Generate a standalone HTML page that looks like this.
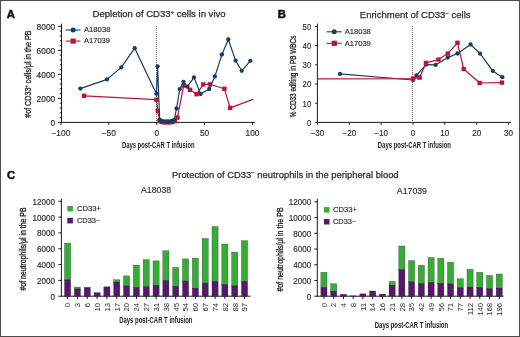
<!DOCTYPE html>
<html><head><meta charset="utf-8"><style>
html,body{margin:0;padding:0;background:#fff;}
body{width:520px;height:337px;overflow:hidden;}
svg{display:block;font-family:"Liberation Sans", sans-serif;will-change:transform;}
</style></head><body>
<svg width="520" height="337" viewBox="0 0 520 337">
<rect x="0" y="0" width="520" height="337" fill="#fff"/>
<g>
<text x="6.8" y="17.8" font-size="11.3" text-anchor="start" fill="#111" font-weight="bold" stroke="#111" stroke-width="0.5">A</text>
<text x="92.6" y="17.4" font-size="9.55" fill="#2e2e2e" stroke="#2e2e2e" stroke-width="0.25">Depletion of CD33<tspan font-size="6" dy="-3.5">+</tspan><tspan dy="3.5"> cells in vivo</tspan></text>
<line x1="61.5" y1="23.7" x2="61.5" y2="122.9" stroke="#1a1a1a" stroke-width="1"/>
<line x1="61.0" y1="122.4" x2="255" y2="122.4" stroke="#1a1a1a" stroke-width="1"/>
<line x1="58.0" y1="122.4" x2="61.5" y2="122.4" stroke="#1a1a1a" stroke-width="1"/>
<text x="55.2" y="125.80000000000001" font-size="8.2" text-anchor="end" fill="#2a2a2a" font-weight="normal" textLength="4.65" lengthAdjust="spacingAndGlyphs" stroke="#2a2a2a" stroke-width="0.15">0</text>
<line x1="58.0" y1="98.375" x2="61.5" y2="98.375" stroke="#1a1a1a" stroke-width="1"/>
<text x="55.2" y="101.775" font-size="8.2" text-anchor="end" fill="#2a2a2a" font-weight="normal" textLength="18.6" lengthAdjust="spacingAndGlyphs" stroke="#2a2a2a" stroke-width="0.15">2000</text>
<line x1="58.0" y1="74.35000000000001" x2="61.5" y2="74.35000000000001" stroke="#1a1a1a" stroke-width="1"/>
<text x="55.2" y="77.75000000000001" font-size="8.2" text-anchor="end" fill="#2a2a2a" font-weight="normal" textLength="18.6" lengthAdjust="spacingAndGlyphs" stroke="#2a2a2a" stroke-width="0.15">4000</text>
<line x1="58.0" y1="50.32500000000002" x2="61.5" y2="50.32500000000002" stroke="#1a1a1a" stroke-width="1"/>
<text x="55.2" y="53.725000000000016" font-size="8.2" text-anchor="end" fill="#2a2a2a" font-weight="normal" textLength="18.6" lengthAdjust="spacingAndGlyphs" stroke="#2a2a2a" stroke-width="0.15">6000</text>
<line x1="58.0" y1="26.30000000000001" x2="61.5" y2="26.30000000000001" stroke="#1a1a1a" stroke-width="1"/>
<text x="55.2" y="29.70000000000001" font-size="8.2" text-anchor="end" fill="#2a2a2a" font-weight="normal" textLength="18.6" lengthAdjust="spacingAndGlyphs" stroke="#2a2a2a" stroke-width="0.15">8000</text>
<line x1="59.8" y1="117.595" x2="61.5" y2="117.595" stroke="#1a1a1a" stroke-width="1"/>
<line x1="59.8" y1="112.79" x2="61.5" y2="112.79" stroke="#1a1a1a" stroke-width="1"/>
<line x1="59.8" y1="107.98500000000001" x2="61.5" y2="107.98500000000001" stroke="#1a1a1a" stroke-width="1"/>
<line x1="59.8" y1="103.18" x2="61.5" y2="103.18" stroke="#1a1a1a" stroke-width="1"/>
<line x1="59.8" y1="93.57000000000001" x2="61.5" y2="93.57000000000001" stroke="#1a1a1a" stroke-width="1"/>
<line x1="59.8" y1="88.76500000000001" x2="61.5" y2="88.76500000000001" stroke="#1a1a1a" stroke-width="1"/>
<line x1="59.8" y1="83.96000000000001" x2="61.5" y2="83.96000000000001" stroke="#1a1a1a" stroke-width="1"/>
<line x1="59.8" y1="79.155" x2="61.5" y2="79.155" stroke="#1a1a1a" stroke-width="1"/>
<line x1="59.8" y1="69.54500000000002" x2="61.5" y2="69.54500000000002" stroke="#1a1a1a" stroke-width="1"/>
<line x1="59.8" y1="64.74000000000001" x2="61.5" y2="64.74000000000001" stroke="#1a1a1a" stroke-width="1"/>
<line x1="59.8" y1="59.93500000000001" x2="61.5" y2="59.93500000000001" stroke="#1a1a1a" stroke-width="1"/>
<line x1="59.8" y1="55.13000000000001" x2="61.5" y2="55.13000000000001" stroke="#1a1a1a" stroke-width="1"/>
<line x1="59.8" y1="45.52000000000001" x2="61.5" y2="45.52000000000001" stroke="#1a1a1a" stroke-width="1"/>
<line x1="59.8" y1="40.71500000000002" x2="61.5" y2="40.71500000000002" stroke="#1a1a1a" stroke-width="1"/>
<line x1="59.8" y1="35.91000000000001" x2="61.5" y2="35.91000000000001" stroke="#1a1a1a" stroke-width="1"/>
<line x1="59.8" y1="31.105000000000018" x2="61.5" y2="31.105000000000018" stroke="#1a1a1a" stroke-width="1"/>
<line x1="60.89999999999999" y1="122.4" x2="60.89999999999999" y2="125.0" stroke="#1a1a1a" stroke-width="1"/>
<text x="60.89999999999999" y="136.0" font-size="8.2" text-anchor="middle" fill="#2a2a2a" font-weight="normal" textLength="18.85" lengthAdjust="spacingAndGlyphs" stroke="#2a2a2a" stroke-width="0.15">−100</text>
<line x1="108.79999999999998" y1="122.4" x2="108.79999999999998" y2="125.0" stroke="#1a1a1a" stroke-width="1"/>
<text x="108.79999999999998" y="136.0" font-size="8.2" text-anchor="middle" fill="#2a2a2a" font-weight="normal" textLength="14.200000000000001" lengthAdjust="spacingAndGlyphs" stroke="#2a2a2a" stroke-width="0.15">−50</text>
<line x1="156.7" y1="122.4" x2="156.7" y2="125.0" stroke="#1a1a1a" stroke-width="1"/>
<text x="156.7" y="136.0" font-size="8.2" text-anchor="middle" fill="#2a2a2a" font-weight="normal" textLength="4.65" lengthAdjust="spacingAndGlyphs" stroke="#2a2a2a" stroke-width="0.15">0</text>
<line x1="204.6" y1="122.4" x2="204.6" y2="125.0" stroke="#1a1a1a" stroke-width="1"/>
<text x="204.6" y="136.0" font-size="8.2" text-anchor="middle" fill="#2a2a2a" font-weight="normal" textLength="9.3" lengthAdjust="spacingAndGlyphs" stroke="#2a2a2a" stroke-width="0.15">50</text>
<line x1="252.5" y1="122.4" x2="252.5" y2="125.0" stroke="#1a1a1a" stroke-width="1"/>
<text x="252.5" y="136.0" font-size="8.2" text-anchor="middle" fill="#2a2a2a" font-weight="normal" textLength="13.950000000000001" lengthAdjust="spacingAndGlyphs" stroke="#2a2a2a" stroke-width="0.15">100</text>
<line x1="156.5" y1="26.0" x2="156.5" y2="122.4" stroke="#555" stroke-width="0.9" stroke-dasharray="1 1"/>
<text x="121.9" y="147.6" font-size="8.9" text-anchor="start" fill="#1a1a1a" font-weight="bold" textLength="72.7" lengthAdjust="spacingAndGlyphs">Days post-CAR T infusion</text>
<text transform="translate(30.9,117.8) rotate(-90)" font-size="9.4" fill="#1a1a1a" stroke="#1a1a1a" stroke-width="0.3" textLength="87.3" lengthAdjust="spacingAndGlyphs">#of CD33<tspan font-size="5" dy="-3">+</tspan><tspan dy="3"> cells/μl in the PB</tspan></text>
<line x1="65.7" y1="30.0" x2="80.5" y2="30.0" stroke="#183d64" stroke-width="1.1"/>
<circle cx="73.10" cy="30.00" r="2.5" fill="#183d64"/>
<text x="84.0" y="31.9" font-size="7.5" text-anchor="start" fill="#2a2a2a" font-weight="normal" textLength="26.4" lengthAdjust="spacingAndGlyphs" stroke="#2a2a2a" stroke-width="0.15">A18038</text>
<line x1="65.7" y1="41.1" x2="80.5" y2="41.1" stroke="#bf1239" stroke-width="1.1"/>
<rect x="70.50" y="38.50" width="5.2" height="5.2" fill="#bf1239"/>
<text x="84.0" y="43.0" font-size="7.5" text-anchor="start" fill="#2a2a2a" font-weight="normal" textLength="26.0" lengthAdjust="spacingAndGlyphs" stroke="#2a2a2a" stroke-width="0.15">A17039</text>
<polyline points="84.10,95.80 156.50,99.60 157.80,111.20 159.60,121.00 161.60,122.00 164.20,122.30 167.00,122.40 169.80,122.30 172.40,122.00 174.80,121.20 177.40,117.60 183.70,85.60 190.00,89.80 196.60,94.20 203.30,84.40 209.90,84.30 224.40,88.80 230.10,107.90 253.00,99.40" fill="none" stroke="#bf1239" stroke-width="1.2" stroke-linejoin="round"/>
<rect x="81.90" y="93.60" width="4.4" height="4.4" fill="#bf1239"/>
<rect x="154.30" y="97.40" width="4.4" height="4.4" fill="#bf1239"/>
<rect x="155.60" y="109.00" width="4.4" height="4.4" fill="#bf1239"/>
<rect x="157.40" y="118.80" width="4.4" height="4.4" fill="#bf1239"/>
<rect x="159.40" y="119.80" width="4.4" height="4.4" fill="#bf1239"/>
<rect x="162.00" y="120.10" width="4.4" height="4.4" fill="#bf1239"/>
<rect x="164.80" y="120.20" width="4.4" height="4.4" fill="#bf1239"/>
<rect x="167.60" y="120.10" width="4.4" height="4.4" fill="#bf1239"/>
<rect x="170.20" y="119.80" width="4.4" height="4.4" fill="#bf1239"/>
<rect x="172.60" y="119.00" width="4.4" height="4.4" fill="#bf1239"/>
<rect x="175.20" y="115.40" width="4.4" height="4.4" fill="#bf1239"/>
<rect x="181.50" y="83.40" width="4.4" height="4.4" fill="#bf1239"/>
<rect x="187.80" y="87.60" width="4.4" height="4.4" fill="#bf1239"/>
<rect x="194.40" y="92.00" width="4.4" height="4.4" fill="#bf1239"/>
<rect x="201.10" y="82.20" width="4.4" height="4.4" fill="#bf1239"/>
<rect x="207.70" y="82.10" width="4.4" height="4.4" fill="#bf1239"/>
<rect x="222.20" y="86.60" width="4.4" height="4.4" fill="#bf1239"/>
<rect x="227.90" y="105.70" width="4.4" height="4.4" fill="#bf1239"/>
<polyline points="80.30,88.60 107.00,79.40 121.30,67.40 134.70,48.20 156.40,93.80 157.60,66.30 159.60,119.60 161.40,120.90 163.40,121.30 165.60,121.50 167.80,121.50 170.00,121.40 172.20,121.00 174.20,120.00 176.50,108.50 179.80,89.10 183.50,81.80 187.40,86.60 194.00,77.40 200.60,94.00 209.20,89.00 214.90,76.40 221.90,54.50 228.30,39.50 235.60,60.60 241.70,70.80 250.30,60.80" fill="none" stroke="#183d64" stroke-width="1.2" stroke-linejoin="round"/>
<circle cx="80.30" cy="88.60" r="2.15" fill="#183d64"/>
<circle cx="107.00" cy="79.40" r="2.15" fill="#183d64"/>
<circle cx="121.30" cy="67.40" r="2.15" fill="#183d64"/>
<circle cx="134.70" cy="48.20" r="2.15" fill="#183d64"/>
<circle cx="156.40" cy="93.80" r="2.15" fill="#183d64"/>
<circle cx="157.60" cy="66.30" r="2.15" fill="#183d64"/>
<circle cx="159.60" cy="119.60" r="2.15" fill="#183d64"/>
<circle cx="161.40" cy="120.90" r="2.15" fill="#183d64"/>
<circle cx="163.40" cy="121.30" r="2.15" fill="#183d64"/>
<circle cx="165.60" cy="121.50" r="2.15" fill="#183d64"/>
<circle cx="167.80" cy="121.50" r="2.15" fill="#183d64"/>
<circle cx="170.00" cy="121.40" r="2.15" fill="#183d64"/>
<circle cx="172.20" cy="121.00" r="2.15" fill="#183d64"/>
<circle cx="174.20" cy="120.00" r="2.15" fill="#183d64"/>
<circle cx="176.50" cy="108.50" r="2.15" fill="#183d64"/>
<circle cx="179.80" cy="89.10" r="2.15" fill="#183d64"/>
<circle cx="183.50" cy="81.80" r="2.15" fill="#183d64"/>
<circle cx="187.40" cy="86.60" r="2.15" fill="#183d64"/>
<circle cx="194.00" cy="77.40" r="2.15" fill="#183d64"/>
<circle cx="200.60" cy="94.00" r="2.15" fill="#183d64"/>
<circle cx="209.20" cy="89.00" r="2.15" fill="#183d64"/>
<circle cx="214.90" cy="76.40" r="2.15" fill="#183d64"/>
<circle cx="221.90" cy="54.50" r="2.15" fill="#183d64"/>
<circle cx="228.30" cy="39.50" r="2.15" fill="#183d64"/>
<circle cx="235.60" cy="60.60" r="2.15" fill="#183d64"/>
<circle cx="241.70" cy="70.80" r="2.15" fill="#183d64"/>
<circle cx="250.30" cy="60.80" r="2.15" fill="#183d64"/>
</g>
<g>
<text x="277.8" y="17.8" font-size="11.3" text-anchor="start" fill="#111" font-weight="bold" stroke="#111" stroke-width="0.5">B</text>
<text x="359.8" y="18.0" font-size="9.5" fill="#2e2e2e" stroke="#2e2e2e" stroke-width="0.25">Enrichment of CD33<tspan font-size="6" dy="-3.5">−</tspan><tspan dy="3.5"> cells</tspan></text>
<line x1="317.4" y1="23.6" x2="317.4" y2="122.9" stroke="#1a1a1a" stroke-width="1"/>
<line x1="316.9" y1="122.4" x2="511" y2="122.4" stroke="#1a1a1a" stroke-width="1"/>
<line x1="315.1" y1="122.4" x2="317.4" y2="122.4" stroke="#1a1a1a" stroke-width="1"/>
<text x="311.2" y="125.80000000000001" font-size="8.2" text-anchor="end" fill="#2a2a2a" font-weight="normal" textLength="4.3" lengthAdjust="spacingAndGlyphs" stroke="#2a2a2a" stroke-width="0.15">0</text>
<line x1="315.1" y1="103.21000000000001" x2="317.4" y2="103.21000000000001" stroke="#1a1a1a" stroke-width="1"/>
<text x="311.2" y="106.61000000000001" font-size="8.2" text-anchor="end" fill="#2a2a2a" font-weight="normal" textLength="8.6" lengthAdjust="spacingAndGlyphs" stroke="#2a2a2a" stroke-width="0.15">10</text>
<line x1="315.1" y1="84.02000000000001" x2="317.4" y2="84.02000000000001" stroke="#1a1a1a" stroke-width="1"/>
<text x="311.2" y="87.42000000000002" font-size="8.2" text-anchor="end" fill="#2a2a2a" font-weight="normal" textLength="8.6" lengthAdjust="spacingAndGlyphs" stroke="#2a2a2a" stroke-width="0.15">20</text>
<line x1="315.1" y1="64.83000000000001" x2="317.4" y2="64.83000000000001" stroke="#1a1a1a" stroke-width="1"/>
<text x="311.2" y="68.23000000000002" font-size="8.2" text-anchor="end" fill="#2a2a2a" font-weight="normal" textLength="8.6" lengthAdjust="spacingAndGlyphs" stroke="#2a2a2a" stroke-width="0.15">30</text>
<line x1="315.1" y1="45.64" x2="317.4" y2="45.64" stroke="#1a1a1a" stroke-width="1"/>
<text x="311.2" y="49.04" font-size="8.2" text-anchor="end" fill="#2a2a2a" font-weight="normal" textLength="8.6" lengthAdjust="spacingAndGlyphs" stroke="#2a2a2a" stroke-width="0.15">40</text>
<line x1="315.1" y1="26.450000000000003" x2="317.4" y2="26.450000000000003" stroke="#1a1a1a" stroke-width="1"/>
<text x="311.2" y="29.85" font-size="8.2" text-anchor="end" fill="#2a2a2a" font-weight="normal" textLength="8.6" lengthAdjust="spacingAndGlyphs" stroke="#2a2a2a" stroke-width="0.15">50</text>
<line x1="317.45" y1="122.4" x2="317.45" y2="124.80000000000001" stroke="#1a1a1a" stroke-width="1"/>
<text x="317.45" y="136.0" font-size="8.2" text-anchor="middle" fill="#2a2a2a" font-weight="normal" textLength="13.6" lengthAdjust="spacingAndGlyphs" stroke="#2a2a2a" stroke-width="0.15">−30</text>
<line x1="349.3" y1="122.4" x2="349.3" y2="124.80000000000001" stroke="#1a1a1a" stroke-width="1"/>
<text x="349.3" y="136.0" font-size="8.2" text-anchor="middle" fill="#2a2a2a" font-weight="normal" textLength="13.6" lengthAdjust="spacingAndGlyphs" stroke="#2a2a2a" stroke-width="0.15">−20</text>
<line x1="381.15" y1="122.4" x2="381.15" y2="124.80000000000001" stroke="#1a1a1a" stroke-width="1"/>
<text x="381.15" y="136.0" font-size="8.2" text-anchor="middle" fill="#2a2a2a" font-weight="normal" textLength="13.6" lengthAdjust="spacingAndGlyphs" stroke="#2a2a2a" stroke-width="0.15">−10</text>
<line x1="413.0" y1="122.4" x2="413.0" y2="124.80000000000001" stroke="#1a1a1a" stroke-width="1"/>
<text x="413.0" y="136.0" font-size="8.2" text-anchor="middle" fill="#2a2a2a" font-weight="normal" textLength="4.5" lengthAdjust="spacingAndGlyphs" stroke="#2a2a2a" stroke-width="0.15">0</text>
<line x1="444.85" y1="122.4" x2="444.85" y2="124.80000000000001" stroke="#1a1a1a" stroke-width="1"/>
<text x="444.85" y="136.0" font-size="8.2" text-anchor="middle" fill="#2a2a2a" font-weight="normal" textLength="9.0" lengthAdjust="spacingAndGlyphs" stroke="#2a2a2a" stroke-width="0.15">10</text>
<line x1="476.7" y1="122.4" x2="476.7" y2="124.80000000000001" stroke="#1a1a1a" stroke-width="1"/>
<text x="476.7" y="136.0" font-size="8.2" text-anchor="middle" fill="#2a2a2a" font-weight="normal" textLength="9.0" lengthAdjust="spacingAndGlyphs" stroke="#2a2a2a" stroke-width="0.15">20</text>
<line x1="508.55" y1="122.4" x2="508.55" y2="124.80000000000001" stroke="#1a1a1a" stroke-width="1"/>
<text x="508.55" y="136.0" font-size="8.2" text-anchor="middle" fill="#2a2a2a" font-weight="normal" textLength="9.0" lengthAdjust="spacingAndGlyphs" stroke="#2a2a2a" stroke-width="0.15">30</text>
<line x1="412.5" y1="26.0" x2="412.5" y2="122.4" stroke="#555" stroke-width="0.9" stroke-dasharray="1 1"/>
<text x="377.8" y="147.5" font-size="8.9" text-anchor="start" fill="#1a1a1a" font-weight="bold" textLength="73.2" lengthAdjust="spacingAndGlyphs">Days post-CAR T infusion</text>
<text transform="translate(296.3,117.2) rotate(-90)" font-size="9.2" fill="#1a1a1a" stroke="#1a1a1a" stroke-width="0.3" textLength="81.6" lengthAdjust="spacingAndGlyphs">% CD33 editing in PB WBCs</text>
<line x1="326.7" y1="31.8" x2="341.7" y2="31.8" stroke="#183d64" stroke-width="1.1"/>
<circle cx="334.20" cy="31.80" r="2.5" fill="#183d64"/>
<text x="344.8" y="34.1" font-size="7.5" text-anchor="start" fill="#2a2a2a" font-weight="normal" textLength="26.0" lengthAdjust="spacingAndGlyphs" stroke="#2a2a2a" stroke-width="0.15">A18038</text>
<line x1="326.7" y1="43.3" x2="341.7" y2="43.3" stroke="#bf1239" stroke-width="1.1"/>
<rect x="331.70" y="40.70" width="5.2" height="5.2" fill="#bf1239"/>
<text x="344.8" y="45.6" font-size="7.5" text-anchor="start" fill="#2a2a2a" font-weight="normal" textLength="26.0" lengthAdjust="spacingAndGlyphs" stroke="#2a2a2a" stroke-width="0.15">A17039</text>
<polyline points="340.00,73.90 413.00,80.00 416.50,75.40 426.00,64.60 435.60,64.90 447.80,57.60 457.50,53.50 470.60,44.50 480.10,53.70 492.80,70.90 502.30,77.20" fill="none" stroke="#183d64" stroke-width="1.2" stroke-linejoin="round"/>
<circle cx="340.00" cy="73.90" r="2.15" fill="#183d64"/>
<circle cx="413.00" cy="80.00" r="2.15" fill="#183d64"/>
<circle cx="416.50" cy="75.40" r="2.15" fill="#183d64"/>
<circle cx="426.00" cy="64.60" r="2.15" fill="#183d64"/>
<circle cx="435.60" cy="64.90" r="2.15" fill="#183d64"/>
<circle cx="447.80" cy="57.60" r="2.15" fill="#183d64"/>
<circle cx="457.50" cy="53.50" r="2.15" fill="#183d64"/>
<circle cx="470.60" cy="44.50" r="2.15" fill="#183d64"/>
<circle cx="480.10" cy="53.70" r="2.15" fill="#183d64"/>
<circle cx="492.80" cy="70.90" r="2.15" fill="#183d64"/>
<circle cx="502.30" cy="77.20" r="2.15" fill="#183d64"/>
<polyline points="317.40,78.80 413.00,78.60 419.60,77.60 426.00,62.90 438.50,59.60 447.80,53.60 457.50,42.80 463.70,69.00 479.70,83.00 501.90,82.60" fill="none" stroke="#bf1239" stroke-width="1.2" stroke-linejoin="round"/>
<rect x="410.80" y="76.40" width="4.4" height="4.4" fill="#bf1239"/>
<rect x="417.40" y="75.40" width="4.4" height="4.4" fill="#bf1239"/>
<rect x="423.80" y="60.70" width="4.4" height="4.4" fill="#bf1239"/>
<rect x="436.30" y="57.40" width="4.4" height="4.4" fill="#bf1239"/>
<rect x="445.60" y="51.40" width="4.4" height="4.4" fill="#bf1239"/>
<rect x="455.30" y="40.60" width="4.4" height="4.4" fill="#bf1239"/>
<rect x="461.50" y="66.80" width="4.4" height="4.4" fill="#bf1239"/>
<rect x="477.50" y="80.80" width="4.4" height="4.4" fill="#bf1239"/>
<rect x="499.70" y="80.40" width="4.4" height="4.4" fill="#bf1239"/>
</g>
<g>
<text x="7.0" y="178.7" font-size="11.3" text-anchor="start" fill="#111" font-weight="bold" stroke="#111" stroke-width="0.5">C</text>
<text x="172.0" y="177.5" font-size="9.4" fill="#2e2e2e" stroke="#2e2e2e" stroke-width="0.25">Protection of CD33<tspan font-size="6" dy="-3.5">−</tspan><tspan dy="3.5"> neutrophils in the peripheral blood</tspan></text>
<line x1="61.4" y1="198.7" x2="61.4" y2="296.7" stroke="#1a1a1a" stroke-width="1"/>
<line x1="60.9" y1="296.2" x2="250.5" y2="296.2" stroke="#1a1a1a" stroke-width="1"/>
<line x1="58.4" y1="296.2" x2="61.4" y2="296.2" stroke="#1a1a1a" stroke-width="1"/>
<text x="55.0" y="299.59999999999997" font-size="8.2" text-anchor="end" fill="#2a2a2a" font-weight="normal" textLength="4.5" lengthAdjust="spacingAndGlyphs" stroke="#2a2a2a" stroke-width="0.15">0</text>
<line x1="58.4" y1="280.38" x2="61.4" y2="280.38" stroke="#1a1a1a" stroke-width="1"/>
<text x="55.0" y="283.78" font-size="8.2" text-anchor="end" fill="#2a2a2a" font-weight="normal" textLength="18.0" lengthAdjust="spacingAndGlyphs" stroke="#2a2a2a" stroke-width="0.15">2000</text>
<line x1="58.4" y1="264.56" x2="61.4" y2="264.56" stroke="#1a1a1a" stroke-width="1"/>
<text x="55.0" y="267.96" font-size="8.2" text-anchor="end" fill="#2a2a2a" font-weight="normal" textLength="18.0" lengthAdjust="spacingAndGlyphs" stroke="#2a2a2a" stroke-width="0.15">4000</text>
<line x1="58.4" y1="248.73999999999998" x2="61.4" y2="248.73999999999998" stroke="#1a1a1a" stroke-width="1"/>
<text x="55.0" y="252.14" font-size="8.2" text-anchor="end" fill="#2a2a2a" font-weight="normal" textLength="18.0" lengthAdjust="spacingAndGlyphs" stroke="#2a2a2a" stroke-width="0.15">6000</text>
<line x1="58.4" y1="232.92" x2="61.4" y2="232.92" stroke="#1a1a1a" stroke-width="1"/>
<text x="55.0" y="236.32" font-size="8.2" text-anchor="end" fill="#2a2a2a" font-weight="normal" textLength="18.0" lengthAdjust="spacingAndGlyphs" stroke="#2a2a2a" stroke-width="0.15">8000</text>
<line x1="58.4" y1="217.1" x2="61.4" y2="217.1" stroke="#1a1a1a" stroke-width="1"/>
<text x="55.0" y="220.5" font-size="8.2" text-anchor="end" fill="#2a2a2a" font-weight="normal" textLength="22.5" lengthAdjust="spacingAndGlyphs" stroke="#2a2a2a" stroke-width="0.15">10000</text>
<line x1="58.4" y1="201.27999999999997" x2="61.4" y2="201.27999999999997" stroke="#1a1a1a" stroke-width="1"/>
<text x="55.0" y="204.67999999999998" font-size="8.2" text-anchor="end" fill="#2a2a2a" font-weight="normal" textLength="22.5" lengthAdjust="spacingAndGlyphs" stroke="#2a2a2a" stroke-width="0.15">12000</text>
<rect x="64.55" y="243.10" width="6.1" height="36.90" fill="#35ad34" stroke="#1c2a1c" stroke-width="0.3"/>
<rect x="64.55" y="280.00" width="6.1" height="16.20" fill="#561869" stroke="#220a2c" stroke-width="0.3"/>
<line x1="67.6" y1="296.2" x2="67.6" y2="299.09999999999997" stroke="#1a1a1a" stroke-width="1"/>
<text transform="translate(70.40,302.8) rotate(-90)" font-size="7.8" text-anchor="end" fill="#2a2a2a">0</text>
<rect x="74.38" y="287.10" width="6.1" height="1.90" fill="#35ad34" stroke="#1c2a1c" stroke-width="0.3"/>
<rect x="74.38" y="289.00" width="6.1" height="7.20" fill="#561869" stroke="#220a2c" stroke-width="0.3"/>
<line x1="77.42999999999999" y1="296.2" x2="77.42999999999999" y2="299.09999999999997" stroke="#1a1a1a" stroke-width="1"/>
<text transform="translate(80.23,302.8) rotate(-90)" font-size="7.8" text-anchor="end" fill="#2a2a2a">3</text>
<rect x="84.21" y="287.30" width="6.1" height="0.50" fill="#35ad34" stroke="#1c2a1c" stroke-width="0.3"/>
<rect x="84.21" y="287.80" width="6.1" height="8.40" fill="#561869" stroke="#220a2c" stroke-width="0.3"/>
<line x1="87.25999999999999" y1="296.2" x2="87.25999999999999" y2="299.09999999999997" stroke="#1a1a1a" stroke-width="1"/>
<text transform="translate(90.06,302.8) rotate(-90)" font-size="7.8" text-anchor="end" fill="#2a2a2a">6</text>
<rect x="94.04" y="292.70" width="6.1" height="3.50" fill="#561869" stroke="#220a2c" stroke-width="0.3"/>
<line x1="97.08999999999999" y1="296.2" x2="97.08999999999999" y2="299.09999999999997" stroke="#1a1a1a" stroke-width="1"/>
<text transform="translate(99.89,302.8) rotate(-90)" font-size="7.8" text-anchor="end" fill="#2a2a2a">10</text>
<rect x="103.87" y="286.90" width="6.1" height="9.30" fill="#561869" stroke="#220a2c" stroke-width="0.3"/>
<line x1="106.92" y1="296.2" x2="106.92" y2="299.09999999999997" stroke="#1a1a1a" stroke-width="1"/>
<text transform="translate(109.72,302.8) rotate(-90)" font-size="7.8" text-anchor="end" fill="#2a2a2a">13</text>
<rect x="113.70" y="279.80" width="6.1" height="2.30" fill="#35ad34" stroke="#1c2a1c" stroke-width="0.3"/>
<rect x="113.70" y="282.10" width="6.1" height="14.10" fill="#561869" stroke="#220a2c" stroke-width="0.3"/>
<line x1="116.74999999999999" y1="296.2" x2="116.74999999999999" y2="299.09999999999997" stroke="#1a1a1a" stroke-width="1"/>
<text transform="translate(119.55,302.8) rotate(-90)" font-size="7.8" text-anchor="end" fill="#2a2a2a">17</text>
<rect x="123.53" y="275.90" width="6.1" height="10.10" fill="#35ad34" stroke="#1c2a1c" stroke-width="0.3"/>
<rect x="123.53" y="286.00" width="6.1" height="10.20" fill="#561869" stroke="#220a2c" stroke-width="0.3"/>
<line x1="126.58" y1="296.2" x2="126.58" y2="299.09999999999997" stroke="#1a1a1a" stroke-width="1"/>
<text transform="translate(129.38,302.8) rotate(-90)" font-size="7.8" text-anchor="end" fill="#2a2a2a">20</text>
<rect x="133.36" y="265.10" width="6.1" height="22.40" fill="#35ad34" stroke="#1c2a1c" stroke-width="0.3"/>
<rect x="133.36" y="287.50" width="6.1" height="8.70" fill="#561869" stroke="#220a2c" stroke-width="0.3"/>
<line x1="136.41000000000003" y1="296.2" x2="136.41000000000003" y2="299.09999999999997" stroke="#1a1a1a" stroke-width="1"/>
<text transform="translate(139.21,302.8) rotate(-90)" font-size="7.8" text-anchor="end" fill="#2a2a2a">24</text>
<rect x="143.19" y="259.70" width="6.1" height="27.00" fill="#35ad34" stroke="#1c2a1c" stroke-width="0.3"/>
<rect x="143.19" y="286.70" width="6.1" height="9.50" fill="#561869" stroke="#220a2c" stroke-width="0.3"/>
<line x1="146.24" y1="296.2" x2="146.24" y2="299.09999999999997" stroke="#1a1a1a" stroke-width="1"/>
<text transform="translate(149.04,302.8) rotate(-90)" font-size="7.8" text-anchor="end" fill="#2a2a2a">27</text>
<rect x="153.02" y="260.90" width="6.1" height="24.30" fill="#35ad34" stroke="#1c2a1c" stroke-width="0.3"/>
<rect x="153.02" y="285.20" width="6.1" height="11.00" fill="#561869" stroke="#220a2c" stroke-width="0.3"/>
<line x1="156.07" y1="296.2" x2="156.07" y2="299.09999999999997" stroke="#1a1a1a" stroke-width="1"/>
<text transform="translate(158.87,302.8) rotate(-90)" font-size="7.8" text-anchor="end" fill="#2a2a2a">31</text>
<rect x="162.85" y="250.80" width="6.1" height="29.60" fill="#35ad34" stroke="#1c2a1c" stroke-width="0.3"/>
<rect x="162.85" y="280.40" width="6.1" height="15.80" fill="#561869" stroke="#220a2c" stroke-width="0.3"/>
<line x1="165.9" y1="296.2" x2="165.9" y2="299.09999999999997" stroke="#1a1a1a" stroke-width="1"/>
<text transform="translate(168.70,302.8) rotate(-90)" font-size="7.8" text-anchor="end" fill="#2a2a2a">38</text>
<rect x="172.68" y="267.50" width="6.1" height="18.90" fill="#35ad34" stroke="#1c2a1c" stroke-width="0.3"/>
<rect x="172.68" y="286.40" width="6.1" height="9.80" fill="#561869" stroke="#220a2c" stroke-width="0.3"/>
<line x1="175.73000000000002" y1="296.2" x2="175.73000000000002" y2="299.09999999999997" stroke="#1a1a1a" stroke-width="1"/>
<text transform="translate(178.53,302.8) rotate(-90)" font-size="7.8" text-anchor="end" fill="#2a2a2a">45</text>
<rect x="182.51" y="258.90" width="6.1" height="22.20" fill="#35ad34" stroke="#1c2a1c" stroke-width="0.3"/>
<rect x="182.51" y="281.10" width="6.1" height="15.10" fill="#561869" stroke="#220a2c" stroke-width="0.3"/>
<line x1="185.56" y1="296.2" x2="185.56" y2="299.09999999999997" stroke="#1a1a1a" stroke-width="1"/>
<text transform="translate(188.36,302.8) rotate(-90)" font-size="7.8" text-anchor="end" fill="#2a2a2a">54</text>
<rect x="192.34" y="258.20" width="6.1" height="30.00" fill="#35ad34" stroke="#1c2a1c" stroke-width="0.3"/>
<rect x="192.34" y="288.20" width="6.1" height="8.00" fill="#561869" stroke="#220a2c" stroke-width="0.3"/>
<line x1="195.39000000000001" y1="296.2" x2="195.39000000000001" y2="299.09999999999997" stroke="#1a1a1a" stroke-width="1"/>
<text transform="translate(198.19,302.8) rotate(-90)" font-size="7.8" text-anchor="end" fill="#2a2a2a">60</text>
<rect x="202.17" y="238.50" width="6.1" height="44.60" fill="#35ad34" stroke="#1c2a1c" stroke-width="0.3"/>
<rect x="202.17" y="283.10" width="6.1" height="13.10" fill="#561869" stroke="#220a2c" stroke-width="0.3"/>
<line x1="205.22000000000003" y1="296.2" x2="205.22000000000003" y2="299.09999999999997" stroke="#1a1a1a" stroke-width="1"/>
<text transform="translate(208.02,302.8) rotate(-90)" font-size="7.8" text-anchor="end" fill="#2a2a2a">67</text>
<rect x="212.00" y="226.60" width="6.1" height="54.80" fill="#35ad34" stroke="#1c2a1c" stroke-width="0.3"/>
<rect x="212.00" y="281.40" width="6.1" height="14.80" fill="#561869" stroke="#220a2c" stroke-width="0.3"/>
<line x1="215.05" y1="296.2" x2="215.05" y2="299.09999999999997" stroke="#1a1a1a" stroke-width="1"/>
<text transform="translate(217.85,302.8) rotate(-90)" font-size="7.8" text-anchor="end" fill="#2a2a2a">74</text>
<rect x="221.83" y="244.00" width="6.1" height="40.70" fill="#35ad34" stroke="#1c2a1c" stroke-width="0.3"/>
<rect x="221.83" y="284.70" width="6.1" height="11.50" fill="#561869" stroke="#220a2c" stroke-width="0.3"/>
<line x1="224.88" y1="296.2" x2="224.88" y2="299.09999999999997" stroke="#1a1a1a" stroke-width="1"/>
<text transform="translate(227.68,302.8) rotate(-90)" font-size="7.8" text-anchor="end" fill="#2a2a2a">82</text>
<rect x="231.66" y="252.10" width="6.1" height="33.80" fill="#35ad34" stroke="#1c2a1c" stroke-width="0.3"/>
<rect x="231.66" y="285.90" width="6.1" height="10.30" fill="#561869" stroke="#220a2c" stroke-width="0.3"/>
<line x1="234.71000000000004" y1="296.2" x2="234.71000000000004" y2="299.09999999999997" stroke="#1a1a1a" stroke-width="1"/>
<text transform="translate(237.51,302.8) rotate(-90)" font-size="7.8" text-anchor="end" fill="#2a2a2a">88</text>
<rect x="241.49" y="240.70" width="6.1" height="40.70" fill="#35ad34" stroke="#1c2a1c" stroke-width="0.3"/>
<rect x="241.49" y="281.40" width="6.1" height="14.80" fill="#561869" stroke="#220a2c" stroke-width="0.3"/>
<line x1="244.54000000000002" y1="296.2" x2="244.54000000000002" y2="299.09999999999997" stroke="#1a1a1a" stroke-width="1"/>
<text transform="translate(247.34,302.8) rotate(-90)" font-size="7.8" text-anchor="end" fill="#2a2a2a">97</text>
<text x="141.0" y="193.1" font-size="8.6" text-anchor="start" fill="#2e2e2e" font-weight="normal" textLength="30.2" lengthAdjust="spacingAndGlyphs" stroke="#2e2e2e" stroke-width="0.15">A18038</text>
<rect x="67.3" y="206.0" width="5.6" height="5.5" fill="#35ad34"/>
<text x="76.89999999999999" y="211.2" font-size="7.5" text-anchor="start" fill="#2a2a2a" font-weight="normal" textLength="24.1" lengthAdjust="spacingAndGlyphs" stroke="#2a2a2a" stroke-width="0.15">CD33+</text>
<rect x="67.3" y="217.8" width="5.6" height="5.6" fill="#561869"/>
<text x="76.89999999999999" y="223.0" font-size="7.5" text-anchor="start" fill="#2a2a2a" font-weight="normal" textLength="23.4" lengthAdjust="spacingAndGlyphs" stroke="#2a2a2a" stroke-width="0.15">CD33−</text>
<text transform="translate(26.2,290.6) rotate(-90)" font-size="9.2" fill="#1a1a1a" stroke="#1a1a1a" stroke-width="0.3" textLength="83.2" lengthAdjust="spacingAndGlyphs">#of neutrophils/μl in the PB</text>
<text x="119.2" y="323.0" font-size="8.9" text-anchor="start" fill="#1a1a1a" font-weight="bold" textLength="73.3" lengthAdjust="spacingAndGlyphs">Days post-CAR T infusion</text>
<line x1="317.3" y1="198.7" x2="317.3" y2="296.7" stroke="#1a1a1a" stroke-width="1"/>
<line x1="316.8" y1="296.2" x2="503.5" y2="296.2" stroke="#1a1a1a" stroke-width="1"/>
<line x1="314.3" y1="296.2" x2="317.3" y2="296.2" stroke="#1a1a1a" stroke-width="1"/>
<text x="311.2" y="299.59999999999997" font-size="8.2" text-anchor="end" fill="#2a2a2a" font-weight="normal" textLength="4.5" lengthAdjust="spacingAndGlyphs" stroke="#2a2a2a" stroke-width="0.15">0</text>
<line x1="314.3" y1="280.47999999999996" x2="317.3" y2="280.47999999999996" stroke="#1a1a1a" stroke-width="1"/>
<text x="311.2" y="283.87999999999994" font-size="8.2" text-anchor="end" fill="#2a2a2a" font-weight="normal" textLength="18.0" lengthAdjust="spacingAndGlyphs" stroke="#2a2a2a" stroke-width="0.15">2000</text>
<line x1="314.3" y1="264.76" x2="317.3" y2="264.76" stroke="#1a1a1a" stroke-width="1"/>
<text x="311.2" y="268.15999999999997" font-size="8.2" text-anchor="end" fill="#2a2a2a" font-weight="normal" textLength="18.0" lengthAdjust="spacingAndGlyphs" stroke="#2a2a2a" stroke-width="0.15">4000</text>
<line x1="314.3" y1="249.04" x2="317.3" y2="249.04" stroke="#1a1a1a" stroke-width="1"/>
<text x="311.2" y="252.44" font-size="8.2" text-anchor="end" fill="#2a2a2a" font-weight="normal" textLength="18.0" lengthAdjust="spacingAndGlyphs" stroke="#2a2a2a" stroke-width="0.15">6000</text>
<line x1="314.3" y1="233.32" x2="317.3" y2="233.32" stroke="#1a1a1a" stroke-width="1"/>
<text x="311.2" y="236.72" font-size="8.2" text-anchor="end" fill="#2a2a2a" font-weight="normal" textLength="18.0" lengthAdjust="spacingAndGlyphs" stroke="#2a2a2a" stroke-width="0.15">8000</text>
<line x1="314.3" y1="217.59999999999997" x2="317.3" y2="217.59999999999997" stroke="#1a1a1a" stroke-width="1"/>
<text x="311.2" y="220.99999999999997" font-size="8.2" text-anchor="end" fill="#2a2a2a" font-weight="normal" textLength="22.5" lengthAdjust="spacingAndGlyphs" stroke="#2a2a2a" stroke-width="0.15">10000</text>
<line x1="314.3" y1="201.88" x2="317.3" y2="201.88" stroke="#1a1a1a" stroke-width="1"/>
<text x="311.2" y="205.28" font-size="8.2" text-anchor="end" fill="#2a2a2a" font-weight="normal" textLength="22.5" lengthAdjust="spacingAndGlyphs" stroke="#2a2a2a" stroke-width="0.15">12000</text>
<rect x="320.90" y="272.30" width="6.1" height="15.20" fill="#35ad34" stroke="#1c2a1c" stroke-width="0.3"/>
<rect x="320.90" y="287.50" width="6.1" height="8.70" fill="#561869" stroke="#220a2c" stroke-width="0.3"/>
<line x1="323.95" y1="296.2" x2="323.95" y2="299.09999999999997" stroke="#1a1a1a" stroke-width="1"/>
<text transform="translate(326.75,302.8) rotate(-90)" font-size="7.8" text-anchor="end" fill="#2a2a2a">0</text>
<rect x="330.64" y="283.80" width="6.1" height="7.40" fill="#35ad34" stroke="#1c2a1c" stroke-width="0.3"/>
<rect x="330.64" y="291.20" width="6.1" height="5.00" fill="#561869" stroke="#220a2c" stroke-width="0.3"/>
<line x1="333.69" y1="296.2" x2="333.69" y2="299.09999999999997" stroke="#1a1a1a" stroke-width="1"/>
<text transform="translate(336.49,302.8) rotate(-90)" font-size="7.8" text-anchor="end" fill="#2a2a2a">2</text>
<rect x="340.38" y="294.30" width="6.1" height="1.90" fill="#561869" stroke="#220a2c" stroke-width="0.3"/>
<line x1="343.43" y1="296.2" x2="343.43" y2="299.09999999999997" stroke="#1a1a1a" stroke-width="1"/>
<text transform="translate(346.23,302.8) rotate(-90)" font-size="7.8" text-anchor="end" fill="#2a2a2a">4</text>
<rect x="350.12" y="295.90" width="6.1" height="0.30" fill="#561869" stroke="#220a2c" stroke-width="0.3"/>
<line x1="353.17" y1="296.2" x2="353.17" y2="299.09999999999997" stroke="#1a1a1a" stroke-width="1"/>
<text transform="translate(355.97,302.8) rotate(-90)" font-size="7.8" text-anchor="end" fill="#2a2a2a">8</text>
<rect x="359.86" y="293.90" width="6.1" height="2.30" fill="#561869" stroke="#220a2c" stroke-width="0.3"/>
<line x1="362.90999999999997" y1="296.2" x2="362.90999999999997" y2="299.09999999999997" stroke="#1a1a1a" stroke-width="1"/>
<text transform="translate(365.71,302.8) rotate(-90)" font-size="7.8" text-anchor="end" fill="#2a2a2a">11</text>
<rect x="369.60" y="291.00" width="6.1" height="5.20" fill="#561869" stroke="#220a2c" stroke-width="0.3"/>
<line x1="372.65" y1="296.2" x2="372.65" y2="299.09999999999997" stroke="#1a1a1a" stroke-width="1"/>
<text transform="translate(375.45,302.8) rotate(-90)" font-size="7.8" text-anchor="end" fill="#2a2a2a">14</text>
<rect x="379.34" y="294.10" width="6.1" height="2.10" fill="#561869" stroke="#220a2c" stroke-width="0.3"/>
<line x1="382.39" y1="296.2" x2="382.39" y2="299.09999999999997" stroke="#1a1a1a" stroke-width="1"/>
<text transform="translate(385.19,302.8) rotate(-90)" font-size="7.8" text-anchor="end" fill="#2a2a2a">16</text>
<rect x="389.08" y="281.50" width="6.1" height="3.70" fill="#35ad34" stroke="#1c2a1c" stroke-width="0.3"/>
<rect x="389.08" y="285.20" width="6.1" height="11.00" fill="#561869" stroke="#220a2c" stroke-width="0.3"/>
<line x1="392.13" y1="296.2" x2="392.13" y2="299.09999999999997" stroke="#1a1a1a" stroke-width="1"/>
<text transform="translate(394.93,302.8) rotate(-90)" font-size="7.8" text-anchor="end" fill="#2a2a2a">21</text>
<rect x="398.82" y="246.00" width="6.1" height="23.70" fill="#35ad34" stroke="#1c2a1c" stroke-width="0.3"/>
<rect x="398.82" y="269.70" width="6.1" height="26.50" fill="#561869" stroke="#220a2c" stroke-width="0.3"/>
<line x1="401.87" y1="296.2" x2="401.87" y2="299.09999999999997" stroke="#1a1a1a" stroke-width="1"/>
<text transform="translate(404.67,302.8) rotate(-90)" font-size="7.8" text-anchor="end" fill="#2a2a2a">28</text>
<rect x="408.56" y="260.70" width="6.1" height="21.20" fill="#35ad34" stroke="#1c2a1c" stroke-width="0.3"/>
<rect x="408.56" y="281.90" width="6.1" height="14.30" fill="#561869" stroke="#220a2c" stroke-width="0.3"/>
<line x1="411.60999999999996" y1="296.2" x2="411.60999999999996" y2="299.09999999999997" stroke="#1a1a1a" stroke-width="1"/>
<text transform="translate(414.41,302.8) rotate(-90)" font-size="7.8" text-anchor="end" fill="#2a2a2a">35</text>
<rect x="418.30" y="265.30" width="6.1" height="18.50" fill="#35ad34" stroke="#1c2a1c" stroke-width="0.3"/>
<rect x="418.30" y="283.80" width="6.1" height="12.40" fill="#561869" stroke="#220a2c" stroke-width="0.3"/>
<line x1="421.34999999999997" y1="296.2" x2="421.34999999999997" y2="299.09999999999997" stroke="#1a1a1a" stroke-width="1"/>
<text transform="translate(424.15,302.8) rotate(-90)" font-size="7.8" text-anchor="end" fill="#2a2a2a">42</text>
<rect x="428.04" y="257.60" width="6.1" height="24.90" fill="#35ad34" stroke="#1c2a1c" stroke-width="0.3"/>
<rect x="428.04" y="282.50" width="6.1" height="13.70" fill="#561869" stroke="#220a2c" stroke-width="0.3"/>
<line x1="431.09" y1="296.2" x2="431.09" y2="299.09999999999997" stroke="#1a1a1a" stroke-width="1"/>
<text transform="translate(433.89,302.8) rotate(-90)" font-size="7.8" text-anchor="end" fill="#2a2a2a">49</text>
<rect x="437.78" y="258.40" width="6.1" height="24.90" fill="#35ad34" stroke="#1c2a1c" stroke-width="0.3"/>
<rect x="437.78" y="283.30" width="6.1" height="12.90" fill="#561869" stroke="#220a2c" stroke-width="0.3"/>
<line x1="440.83" y1="296.2" x2="440.83" y2="299.09999999999997" stroke="#1a1a1a" stroke-width="1"/>
<text transform="translate(443.63,302.8) rotate(-90)" font-size="7.8" text-anchor="end" fill="#2a2a2a">56</text>
<rect x="447.52" y="262.20" width="6.1" height="21.80" fill="#35ad34" stroke="#1c2a1c" stroke-width="0.3"/>
<rect x="447.52" y="284.00" width="6.1" height="12.20" fill="#561869" stroke="#220a2c" stroke-width="0.3"/>
<line x1="450.57" y1="296.2" x2="450.57" y2="299.09999999999997" stroke="#1a1a1a" stroke-width="1"/>
<text transform="translate(453.37,302.8) rotate(-90)" font-size="7.8" text-anchor="end" fill="#2a2a2a">71</text>
<rect x="457.26" y="278.80" width="6.1" height="9.10" fill="#35ad34" stroke="#1c2a1c" stroke-width="0.3"/>
<rect x="457.26" y="287.90" width="6.1" height="8.30" fill="#561869" stroke="#220a2c" stroke-width="0.3"/>
<line x1="460.31" y1="296.2" x2="460.31" y2="299.09999999999997" stroke="#1a1a1a" stroke-width="1"/>
<text transform="translate(463.11,302.8) rotate(-90)" font-size="7.8" text-anchor="end" fill="#2a2a2a">77</text>
<rect x="467.00" y="269.40" width="6.1" height="17.70" fill="#35ad34" stroke="#1c2a1c" stroke-width="0.3"/>
<rect x="467.00" y="287.10" width="6.1" height="9.10" fill="#561869" stroke="#220a2c" stroke-width="0.3"/>
<line x1="470.05" y1="296.2" x2="470.05" y2="299.09999999999997" stroke="#1a1a1a" stroke-width="1"/>
<text transform="translate(472.85,302.8) rotate(-90)" font-size="7.8" text-anchor="end" fill="#2a2a2a">112</text>
<rect x="476.74" y="272.30" width="6.1" height="15.40" fill="#35ad34" stroke="#1c2a1c" stroke-width="0.3"/>
<rect x="476.74" y="287.70" width="6.1" height="8.50" fill="#561869" stroke="#220a2c" stroke-width="0.3"/>
<line x1="479.79" y1="296.2" x2="479.79" y2="299.09999999999997" stroke="#1a1a1a" stroke-width="1"/>
<text transform="translate(482.59,302.8) rotate(-90)" font-size="7.8" text-anchor="end" fill="#2a2a2a">140</text>
<rect x="486.48" y="275.50" width="6.1" height="13.40" fill="#35ad34" stroke="#1c2a1c" stroke-width="0.3"/>
<rect x="486.48" y="288.90" width="6.1" height="7.30" fill="#561869" stroke="#220a2c" stroke-width="0.3"/>
<line x1="489.53000000000003" y1="296.2" x2="489.53000000000003" y2="299.09999999999997" stroke="#1a1a1a" stroke-width="1"/>
<text transform="translate(492.33,302.8) rotate(-90)" font-size="7.8" text-anchor="end" fill="#2a2a2a">168</text>
<rect x="496.22" y="274.00" width="6.1" height="14.10" fill="#35ad34" stroke="#1c2a1c" stroke-width="0.3"/>
<rect x="496.22" y="288.10" width="6.1" height="8.10" fill="#561869" stroke="#220a2c" stroke-width="0.3"/>
<line x1="499.27" y1="296.2" x2="499.27" y2="299.09999999999997" stroke="#1a1a1a" stroke-width="1"/>
<text transform="translate(502.07,302.8) rotate(-90)" font-size="7.8" text-anchor="end" fill="#2a2a2a">196</text>
<text x="396.8" y="193.9" font-size="8.6" text-anchor="start" fill="#2e2e2e" font-weight="normal" textLength="30.2" lengthAdjust="spacingAndGlyphs" stroke="#2e2e2e" stroke-width="0.15">A17039</text>
<rect x="323.9" y="207.1" width="5.6" height="5.5" fill="#35ad34"/>
<text x="332.9" y="212.29999999999998" font-size="7.5" text-anchor="start" fill="#2a2a2a" font-weight="normal" textLength="24.1" lengthAdjust="spacingAndGlyphs" stroke="#2a2a2a" stroke-width="0.15">CD33+</text>
<rect x="323.9" y="218.9" width="5.6" height="5.6" fill="#561869"/>
<text x="332.9" y="224.1" font-size="7.5" text-anchor="start" fill="#2a2a2a" font-weight="normal" textLength="23.4" lengthAdjust="spacingAndGlyphs" stroke="#2a2a2a" stroke-width="0.15">CD33−</text>
<text transform="translate(283.4,291.6) rotate(-90)" font-size="9.2" fill="#1a1a1a" stroke="#1a1a1a" stroke-width="0.3" textLength="84.2" lengthAdjust="spacingAndGlyphs">#of neutrophils/μl in the PB</text>
<text x="374.8" y="327.6" font-size="8.9" text-anchor="start" fill="#1a1a1a" font-weight="bold" textLength="73.3" lengthAdjust="spacingAndGlyphs">Days post-CAR T infusion</text>
</g>
<rect x="0.5" y="0.5" width="519" height="336" fill="none" stroke="#4d4d4d" stroke-width="1"/>
</svg>
</body></html>
